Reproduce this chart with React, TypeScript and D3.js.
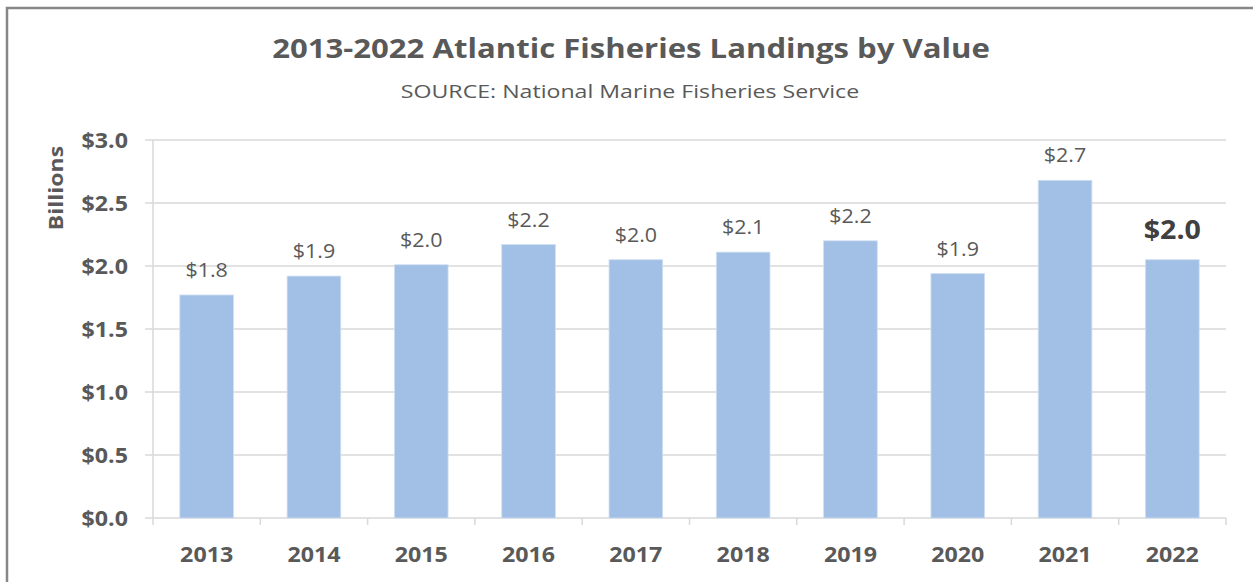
import { useRef, useEffect } from "react";
import * as d3 from "d3";

const years = ["2013", "2014", "2015", "2016", "2017", "2018", "2019", "2020", "2021", "2022"];
const values = [1.77, 1.92, 2.01, 2.17, 2.05, 2.11, 2.2, 1.94, 2.68, 2.05];
const labels = ["$1.8", "$1.9", "$2.0", "$2.2", "$2.0", "$2.1", "$2.2", "$1.9", "$2.7", "$2.0"];
const yTicks = [0, 0.5, 1, 1.5, 2, 2.5, 3];

export default function App() {
  const ref = useRef<SVGSVGElement | null>(null);

  useEffect(() => {
    if (!ref.current) return;
    const W = 1253;
    const H = 582;
    const margin = { top: 140, right: 27, bottom: 64, left: 153 };
    const font = "'Open Sans', sans-serif";
    const textColor = "#595959";
    const gridColor = "#d9d9d9";

    const svg = d3.select(ref.current);
    svg.selectAll("*").remove();
    svg.attr("width", W).attr("height", H);

    svg.append("rect").attr("width", W).attr("height", H).attr("fill", "#fff");
    // frame
    svg
      .append("path")
      .attr("d", `M7,${H} V8 H${W}`)
      .attr("fill", "none")
      .attr("stroke", "#878787")
      .attr("stroke-width", 2.5);

    const x = d3
      .scaleBand()
      .domain(years)
      .range([margin.left, W - margin.right])
      .paddingInner(0.5)
      .paddingOuter(0.25);

    const y = d3
      .scaleLinear()
      .domain([0, 3])
      .range([H - margin.bottom, margin.top]);

    // gridlines
    svg
      .append("g")
      .selectAll("line")
      .data(yTicks)
      .join("line")
      .attr("x1", margin.left - 8)
      .attr("x2", W - margin.right)
      .attr("y1", (d) => y(d))
      .attr("y2", (d) => y(d))
      .attr("stroke", gridColor)
      .attr("stroke-width", 1.5);

    // y axis line
    svg
      .append("line")
      .attr("x1", margin.left)
      .attr("x2", margin.left)
      .attr("y1", y(3))
      .attr("y2", y(0))
      .attr("stroke", gridColor)
      .attr("stroke-width", 1.5);

    // x ticks
    const step = x.step();
    const boundaries = d3.range(years.length + 1).map((i) => margin.left + i * step);
    svg
      .append("g")
      .selectAll("line")
      .data(boundaries)
      .join("line")
      .attr("x1", (d) => d)
      .attr("x2", (d) => d)
      .attr("y1", y(0))
      .attr("y2", y(0) + 7)
      .attr("stroke", gridColor)
      .attr("stroke-width", 1.5);

    // bars
    svg
      .append("g")
      .selectAll("rect")
      .data(values)
      .join("rect")
      .attr("x", (_, i) => x(years[i])!)
      .attr("width", x.bandwidth())
      .attr("y", (d) => y(d))
      .attr("height", (d) => y(0) - y(d))
      .attr("fill", "#a2c0e5")
      .attr("stroke", "#cfdff2")
      .attr("stroke-width", 0.8);

    // data labels
    const last = years.length - 1;
    svg
      .append("g")
      .selectAll("text")
      .data(values)
      .join("text")
      .attr("transform", (d, i) => {
        const cx = x(years[i])! + x.bandwidth() / 2;
        const cy = y(d) - (i === last ? 21 : 18);
        return `translate(${cx},${cy}) scale(1.1,1)`;
      })
      .attr("text-anchor", "middle")
      .attr("font-family", font)
      .attr("font-size", (_, i) => (i === last ? 26 : 19.5))
      .attr("font-weight", (_, i) => (i === last ? 700 : 400))
      .attr("fill", (_, i) => (i === last ? "#404040" : textColor))
      .text((_, i) => labels[i]);

    // y tick labels
    svg
      .append("g")
      .selectAll("text")
      .data(yTicks)
      .join("text")
      .attr("transform", (d) => `translate(128,${y(d) + 7.5}) scale(1.08,1)`)
      .attr("text-anchor", "end")
      .attr("font-family", font)
      .attr("font-size", 21.5)
      .attr("font-weight", 700)
      .attr("fill", textColor)
      .text((d) => `$${d.toFixed(1)}`);

    // x tick labels
    svg
      .append("g")
      .selectAll("text")
      .data(years)
      .join("text")
      .attr("transform", (d) => `translate(${x(d)! + x.bandwidth() / 2},562) scale(1.08,1)`)
      .attr("text-anchor", "middle")
      .attr("font-family", font)
      .attr("font-size", 21.5)
      .attr("font-weight", 700)
      .attr("fill", textColor)
      .text((d) => d);

    // y axis title
    svg
      .append("text")
      .attr("transform", `translate(63,188) rotate(-90) scale(1.15,1)`)
      .attr("text-anchor", "middle")
      .attr("font-family", font)
      .attr("font-size", 20)
      .attr("font-weight", 700)
      .attr("fill", textColor)
      .text("Billions");

    // title
    svg
      .append("text")
      .attr("transform", "translate(631,58) scale(1.197,1)")
      .attr("text-anchor", "middle")
      .attr("font-family", font)
      .attr("font-size", 26)
      .attr("font-weight", 700)
      .attr("fill", textColor)
      .text("2013-2022 Atlantic Fisheries Landings by Value");

    svg
      .append("text")
      .attr("transform", "translate(630,98) scale(1.25,1)")
      .attr("text-anchor", "middle")
      .attr("font-family", font)
      .attr("font-size", 18.5)
      .attr("fill", textColor)
      .text("SOURCE: National Marine Fisheries Service");
  }, []);

  return <svg ref={ref} style={{ position: "absolute", left: 0, top: 0 }} />;
}
